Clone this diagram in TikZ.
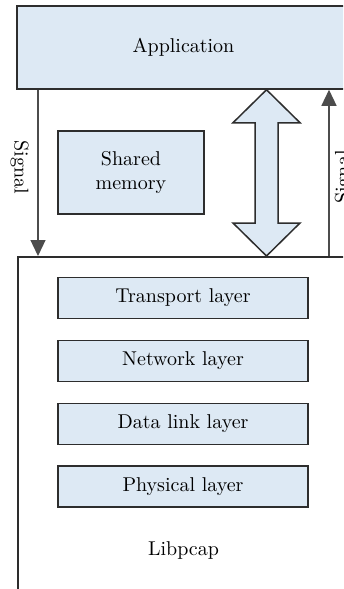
\documentclass[tikz,border=0pt]{standalone}
\usepackage{tikz}
\usetikzlibrary{
    arrows.meta,
    calc,
    positioning,
}
\definecolor{layerfill}{RGB}{221,233,244}
\definecolor{layerdraw}{RGB}{45,45,45}
\tikzset{
    capstack/.style={
        x=0.5pt, y=-0.5pt,
        font=\fontsize{10}{12}\selectfont,
        box/.style={draw=layerdraw, line width=0.75pt, fill=layerfill, inner sep=0pt, align=center},
        layer/.style={box, minimum width=125pt, minimum height=20.5pt},
        host/.style={box, fill=white, minimum width=166.5pt, anchor=north west},
        signal/.style={draw=layerdraw!85, line width=0.6pt, -{Triangle[length=8pt,width=7.5pt]}},
        node distance=10.2pt,
    },
}

\begin{document}
\begin{tikzpicture}[capstack]
    \path[use as bounding box, fill=white] (0,0) rectangle (343,589);
    \clip (0,0) rectangle (343,589);

    % application on top, libpcap underneath
    \node[box, minimum width=166.5pt, minimum height=41.5pt] (app) at (183.5,47.5) {Application};
    \node[host, minimum height=180pt] (libpcap) at (17,256) {};
    \node (libname) at (183.5,550) {Libpcap};

    \node[layer] (transport) at (183,298) {Transport layer};
    \node[layer, below=of transport] (network) {Network layer};
    \node[layer, below=of network] (datalink) {Data link layer};
    \node[layer, below=of datalink] (physical) {Physical layer};

    \node[box, minimum width=73pt, minimum height=41.5pt] (shm) at (131,172.5) {Shared\\memory};

    % signals in both directions
    \coordinate (sigdown) at (38,0);
    \coordinate (sigup) at (329,0);
    \draw[signal] (sigdown |- app.south) -- (sigdown |- libpcap.north);
    \draw[signal] (sigup |- libpcap.north) -- (sigup |- app.south);
    \node[rotate=-90] (downlabel) at (19.5,167) {Signal};
    \node[rotate=90] (uplabel) at (344,177) {Signal};

    % shared memory access
    \coordinate (shmx) at (266.5,0);
    \path (shmx |- app.south) coordinate (tiptop)
          (shmx |- libpcap.north) coordinate (tipbot);
    \draw[box] (tiptop) -- ++(33.5,33) -- ++(-22,0) -- ($(tipbot)+(11.5,-33)$) -- ++(22,0)
        -- (tipbot) -- ++(-33.5,-33) -- ++(22,0) -- ($(tiptop)+(-11.5,33)$) -- ++(-22,0) -- cycle;
\end{tikzpicture}
\end{document}
